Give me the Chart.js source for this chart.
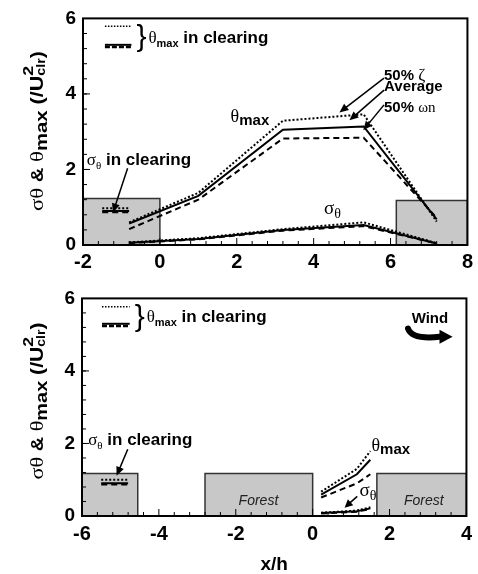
<!DOCTYPE html>
<html><head><meta charset="utf-8">
<script src="https://cdn.jsdelivr.net/npm/chart.js@4.4.0/dist/chart.umd.min.js"></script>
<style>
html,body{margin:0;padding:0;background:#fff;}
#wrap{position:relative;width:478px;height:574px;}
.box{position:absolute;left:0;width:478px;}
#top{top:0;height:280px;} #bot{top:280px;height:294px;}
</style></head><body>
<div id="wrap"><div class="box" id="top"><canvas id="c1"></canvas></div><div class="box" id="bot"><canvas id="c2"></canvas></div></div>
<script>
// ---------- DATA (top panel) ----------
const topX = [-0.8, 1.0, 3.2, 5.3, 7.2];
const topThetaZeta = [0.60, 1.38, 3.29, 3.46, 0.62];
const topThetaAvg  = [0.57, 1.30, 3.05, 3.14, 0.68];
const topThetaWn   = [0.42, 1.20, 2.82, 2.84, 0.72];
const topSigmaZeta = [0.07, 0.18, 0.42, 0.60, 0.05];
const topSigmaAvg  = [0.06, 0.16, 0.40, 0.53, 0.04];
const topSigmaWn   = [0.05, 0.15, 0.38, 0.50, 0.04];
const topClearX = [-1.5, -0.8];
const topClearVals = [0.97, 0.90, 0.87];   // zeta, avg, wn
const topBoxX0 = [-2, 6.15];
const topBoxX1 = [0, 8];
const topBoxH  = [1.23, 1.18];
const topXTicks = [-2, 8, 2];  // min, max, step
// ---------- DATA (bottom panel) ----------
const botX = [0.22, 1.15, 1.5];
const botThetaZeta = [0.67, 1.30, 1.79];
const botThetaAvg  = [0.59, 1.15, 1.55];
const botThetaWn   = [0.51, 0.90, 1.15];
const botSigmaZeta = [0.09, 0.15, 0.24];
const botSigmaAvg  = [0.08, 0.13, 0.21];
const botSigmaWn   = [0.07, 0.12, 0.19];
const botClearX = [-5.5, -4.8];
const botClearVals = [1.00, 0.90, 0.87];
const botBoxX0 = [-6, -2.8, 1.67];
const botBoxX1 = [-4.55, 0, 4];
const botBoxH  = [1.17, 1.17, 1.17];
const botXTicks = [-6, 4, 2];
const yTicks = [0, 6, 2];

// ---------- helpers ----------
const SANS = '"Liberation Sans", Arial, sans-serif';
const SERIF = '"Liberation Serif", "Times New Roman", serif';
function lineDS(xs, ys, style){
  return {data: xs.map((x,i)=>({x:x, y:ys[i]})), borderColor:'#000', borderWidth:2,
    borderDash: style==='dot'?[2,2]:(style==='dash'?[6,4]:[]), pointRadius:0, fill:false, tension:0, order:1};
}
function boxDS(x0,x1,h){
  return {data:[{x:x0,y:0},{x:x0,y:h},{x:x1,y:h},{x:x1,y:0}], borderColor:'#333', borderWidth:1.5,
    backgroundColor:'#c8c8c8', fill:'origin', pointRadius:0, tension:0, order:10};
}
function rich(ctx, x, y, parts, align){
  let w=0;
  parts.forEach(p=>{ctx.font=p[1]; if(!p[3]) w+=ctx.measureText(p[0]).width;});
  let cx = align==='center'? x-w/2 : x;
  ctx.textAlign='left'; ctx.textBaseline='alphabetic'; ctx.fillStyle='#000';
  parts.forEach(p=>{ctx.font=p[1]; ctx.fillText(p[0], cx, y+(p[2]||0)); if(!p[3]) cx+=ctx.measureText(p[0]).width;});
  return w;
}
function arrow(ctx, x1,y1,x2,y2, L, W){
  L=L||9; W=W||4;
  const a=Math.atan2(y2-y1,x2-x1);
  ctx.save(); ctx.strokeStyle='#000'; ctx.fillStyle='#000'; ctx.lineWidth=1.5; ctx.setLineDash([]);
  ctx.beginPath(); ctx.moveTo(x1,y1); ctx.lineTo(x2-Math.cos(a)*L*0.8, y2-Math.sin(a)*L*0.8); ctx.stroke();
  ctx.beginPath(); ctx.moveTo(x2,y2);
  ctx.lineTo(x2-Math.cos(a)*L - Math.sin(a)*W, y2-Math.sin(a)*L + Math.cos(a)*W);
  ctx.lineTo(x2-Math.cos(a)*L + Math.sin(a)*W, y2-Math.sin(a)*L - Math.cos(a)*W);
  ctx.closePath(); ctx.fill(); ctx.restore();
}
function yTitle(ctx, bx, cy, len){
  const parts = [
    ['σθ', '19px '+SERIF, 0],
    [' & ', 'bold 17px '+SANS, 0],
    ['θ', '19px '+SERIF, 0],
    ['max', 'bold 17px '+SANS, 4],
    [' (/U', 'bold 18px '+SANS, 0],
    ['2', 'bold 15px '+SANS, -10, true],
    ['clr', 'bold 12px '+SANS, 2],
    [')', 'bold 18px '+SANS, 0]
  ];
  let w=0; parts.forEach(p=>{ctx.font=p[1]; if(!p[3]) w+=ctx.measureText(p[0]).width;});
  ctx.save(); ctx.translate(bx, cy); ctx.rotate(-Math.PI/2); ctx.scale(len/w,1);
  rich(ctx, -w/2, 0, parts); ctx.restore();
}
function frameAndTicks(chart){
  const ctx=chart.ctx, a=chart.chartArea, xs=chart.scales.x, ys=chart.scales.y;
  ctx.save(); ctx.strokeStyle='#000'; ctx.setLineDash([]);
  ctx.lineWidth=1;
  const nx=Math.round((xs.max-xs.min)/0.4);
  for(let k=1;k<nx;k++){ const v=xs.min+k*0.4; const px=xs.getPixelForValue(v);
    const major=Math.abs(v/2-Math.round(v/2))<1e-6; ctx.beginPath(); ctx.moveTo(px,a.bottom); ctx.lineTo(px,a.bottom-(major?7:4)); ctx.stroke(); }
  const ny=Math.round((ys.max-ys.min)/0.4);
  for(let k=1;k<ny;k++){ const v=ys.min+k*0.4; const py=ys.getPixelForValue(v);
    ctx.beginPath(); ctx.moveTo(a.left,py); ctx.lineTo(a.left+4,py); ctx.stroke(); }
  [2,4].forEach(v=>{const py=ys.getPixelForValue(v); ctx.beginPath(); ctx.moveTo(a.left,py); ctx.lineTo(a.left+7,py); ctx.stroke();});
  ctx.lineWidth=2; ctx.strokeRect(a.left,a.top,a.right-a.left,a.bottom-a.top);
  ctx.restore();
}
function legendBlock(chart, x0, x1, yDot, ySol, yDash){
  const ctx=chart.ctx, xs=chart.scales.x, ys=chart.scales.y;
  const X0=xs.getPixelForValue(x0), X1=xs.getPixelForValue(x1);
  const seg=(y,dash,w)=>{ctx.save(); ctx.lineWidth=w; ctx.setLineDash(dash); ctx.strokeStyle='#000'; ctx.beginPath(); const py=ys.getPixelForValue(y); ctx.moveTo(X0,py); ctx.lineTo(X1,py); ctx.stroke(); ctx.restore();};
  seg(yDot,[1.5,1.5],1.5); seg(ySol,[],2); seg(yDash,[5,2],2.5);
  const top=ys.getPixelForValue(yDot), bot=ys.getPixelForValue(yDash);
  ctx.save(); ctx.font='30px '+SANS; ctx.textAlign='left'; ctx.textBaseline='middle'; ctx.fillStyle='#000';
  ctx.fillText('}', X1+5, (top+bot)/2+1); ctx.restore();
  rich(ctx, X1+17, (top+bot)/2+6, [['θ','17px '+SERIF,0],['max','bold 11px '+SANS,4],[' in clearing','bold 17px '+SANS,0]]);
}
function P(chart,x,y){return [chart.scales.x.getPixelForValue(x), chart.scales.y.getPixelForValue(y)];}

function baseOptions(xt, pad, yW, xH, xPad, withTitle){
  return {
    responsive:true, maintainAspectRatio:false, animation:false, devicePixelRatio:1,
    layout:{padding:pad},
    plugins:{legend:{display:false}, tooltip:{enabled:false}},
    scales:{
      x:{type:'linear', min:xt[0], max:xt[1],
         ticks:{stepSize:xt[2], color:'#000', font:{family:SANS, size:20, weight:'bold'}, padding:xPad, maxRotation:0, autoSkip:false},
         grid:{display:false, drawTicks:false}, border:{display:false},
         title:{display:withTitle, text:'x/h', color:'#000', font:{family:SANS, size:19, weight:'bold', lineHeight:1}, padding:0},
         afterFit:s=>{s.height=xH;}},
      y:{type:'linear', min:yTicks[0], max:yTicks[1],
         ticks:{stepSize:yTicks[2], color:'#000', font:{family:SANS, size:19, weight:'bold'}, padding:7},
         grid:{display:false, drawTicks:false}, border:{display:false},
         afterFit:s=>{s.width=yW;}}
    }
  };
}

// ---------- TOP CHART ----------
const topDatasets = [];
topBoxX0.forEach((x0,i)=>topDatasets.push(boxDS(x0, topBoxX1[i], topBoxH[i])));
topDatasets.push(lineDS(topX, topThetaZeta, 'dot'), lineDS(topX, topThetaAvg, 'solid'), lineDS(topX, topThetaWn, 'dash'));
topDatasets.push(lineDS(topX, topSigmaZeta, 'dot'), lineDS(topX, topSigmaAvg, 'solid'), lineDS(topX, topSigmaWn, 'dash'));
topDatasets.push(lineDS(topClearX, [topClearVals[0],topClearVals[0]], 'dot'),
                 lineDS(topClearX, [topClearVals[1],topClearVals[1]], 'solid'),
                 lineDS(topClearX, [topClearVals[2],topClearVals[2]], 'dash'));

new Chart(document.getElementById('c1'), {
  type:'line', data:{datasets:topDatasets},
  options: baseOptions(topXTicks, {top:14, right:7, left:0, bottom:0}, 83, 35, 5, false),
  plugins:[{id:'decoTop', afterDraw(chart){
    const ctx=chart.ctx; frameAndTicks(chart);
    legendBlock(chart, -1.43, -0.74, 5.79, 5.30, 5.24);
    let p=P(chart,1.84,3.27); rich(ctx,p[0],p[1],[['θ','18px '+SERIF,0],['max','bold 15px '+SANS,3]]);
    p=P(chart,5.83,4.36); rich(ctx,p[0],p[1],[['50% ','bold 15px '+SANS,0],['ζ','17px '+SERIF,0]]);
    p=P(chart,5.83,4.08); rich(ctx,p[0],p[1],[['Average','bold 15px '+SANS,0]]);
    p=P(chart,5.83,3.51); rich(ctx,p[0],p[1],[['50% ','bold 15px '+SANS,0],['ωn','15px '+SERIF,0]]);
    let a=P(chart,5.83,4.42), b=P(chart,4.67,3.51); arrow(ctx,a[0],a[1],b[0],b[1]);
    a=P(chart,5.83,4.10); b=P(chart,4.93,3.30); arrow(ctx,a[0],a[1],b[0],b[1]);
    a=P(chart,5.83,3.71); b=P(chart,5.29,3.04); arrow(ctx,a[0],a[1],b[0],b[1]);
    p=P(chart,4.27,0.83); rich(ctx,p[0],p[1],[['σ','19px '+SERIF,0],['θ','14px '+SERIF,4]]);
    p=P(chart,-1.90,2.13); rich(ctx,p[0],p[1],[['σ','17px '+SERIF,0],['θ','11px '+SERIF,4],[' in clearing','bold 17px '+SANS,0]]);
    a=P(chart,-0.84,2.03); b=P(chart,-1.22,0.86); arrow(ctx,a[0],a[1],b[0],b[1]);
    yTitle(ctx, 43, 131, 160);
  }}]
});

// ---------- BOTTOM CHART ----------
const botDatasets = [];
botBoxX0.forEach((x0,i)=>botDatasets.push(boxDS(x0, botBoxX1[i], botBoxH[i])));
botDatasets.push(lineDS(botX, botThetaZeta, 'dot'), lineDS(botX, botThetaAvg, 'solid'), lineDS(botX, botThetaWn, 'dash'));
botDatasets.push(lineDS(botX, botSigmaZeta, 'dot'), lineDS(botX, botSigmaAvg, 'solid'), lineDS(botX, botSigmaWn, 'dash'));
botDatasets.push(lineDS(botClearX, [botClearVals[0],botClearVals[0]], 'dot'),
                 lineDS(botClearX, [botClearVals[1],botClearVals[1]], 'solid'),
                 lineDS(botClearX, [botClearVals[2],botClearVals[2]], 'dash'));

new Chart(document.getElementById('c2'), {
  type:'line', data:{datasets:botDatasets},
  options: baseOptions(botXTicks, {top:4, right:8, left:0, bottom:0}, 82, 58, 6, true),
  plugins:[{id:'decoBot', afterDraw(chart){
    const ctx=chart.ctx; frameAndTicks(chart);
    legendBlock(chart, -5.48, -4.76, 5.77, 5.30, 5.24);
    let p=P(chart,-5.84,1.97); rich(ctx,p[0],p[1],[['σ','17px '+SERIF,0],['θ','11px '+SERIF,4],[' in clearing','bold 17px '+SANS,0]]);
    let a=P(chart,-4.81,1.84), b=P(chart,-5.10,1.11); arrow(ctx,a[0],a[1],b[0],b[1]);
    p=P(chart,1.53,1.78); rich(ctx,p[0],p[1],[['θ','18px '+SERIF,0],['max','bold 15px '+SANS,3]]);
    p=P(chart,1.22,0.54); rich(ctx,p[0],p[1],[['σ','19px '+SERIF,0],['θ','14px '+SERIF,4]]);
    a=P(chart,1.16,0.54); b=P(chart,0.83,0.23); arrow(ctx,a[0],a[1],b[0],b[1],8,4);
    ctx.save(); ctx.font='italic 14px '+SANS; ctx.textAlign='center'; ctx.textBaseline='middle'; ctx.fillStyle='#222';
    p=P(chart,-1.41,0.41); ctx.fillText('Forest',p[0],p[1]);
    p=P(chart,2.89,0.41); ctx.fillText('Forest',p[0],p[1]);
    ctx.restore();
    p=P(chart,3.05,5.33); rich(ctx,p[0],p[1],[['Wind','bold 15px '+SANS,0]],'center');
    // wind arrow
    const s=P(chart,2.48,5.17), c=P(chart,2.58,4.86), e=P(chart,3.30,4.94), t=P(chart,3.64,4.94);
    ctx.save(); ctx.strokeStyle='#000'; ctx.fillStyle='#000'; ctx.lineWidth=6; ctx.lineCap='round';
    ctx.beginPath(); ctx.moveTo(s[0],s[1]); ctx.quadraticCurveTo(c[0],c[1],e[0],e[1]); ctx.stroke();
    ctx.beginPath(); ctx.moveTo(t[0],t[1]); ctx.lineTo(e[0],e[1]-7); ctx.lineTo(e[0],e[1]+7); ctx.closePath(); ctx.fill();
    ctx.restore();
    yTitle(ctx, 43, 121, 157);
  }}]
});
</script>
</body></html>
